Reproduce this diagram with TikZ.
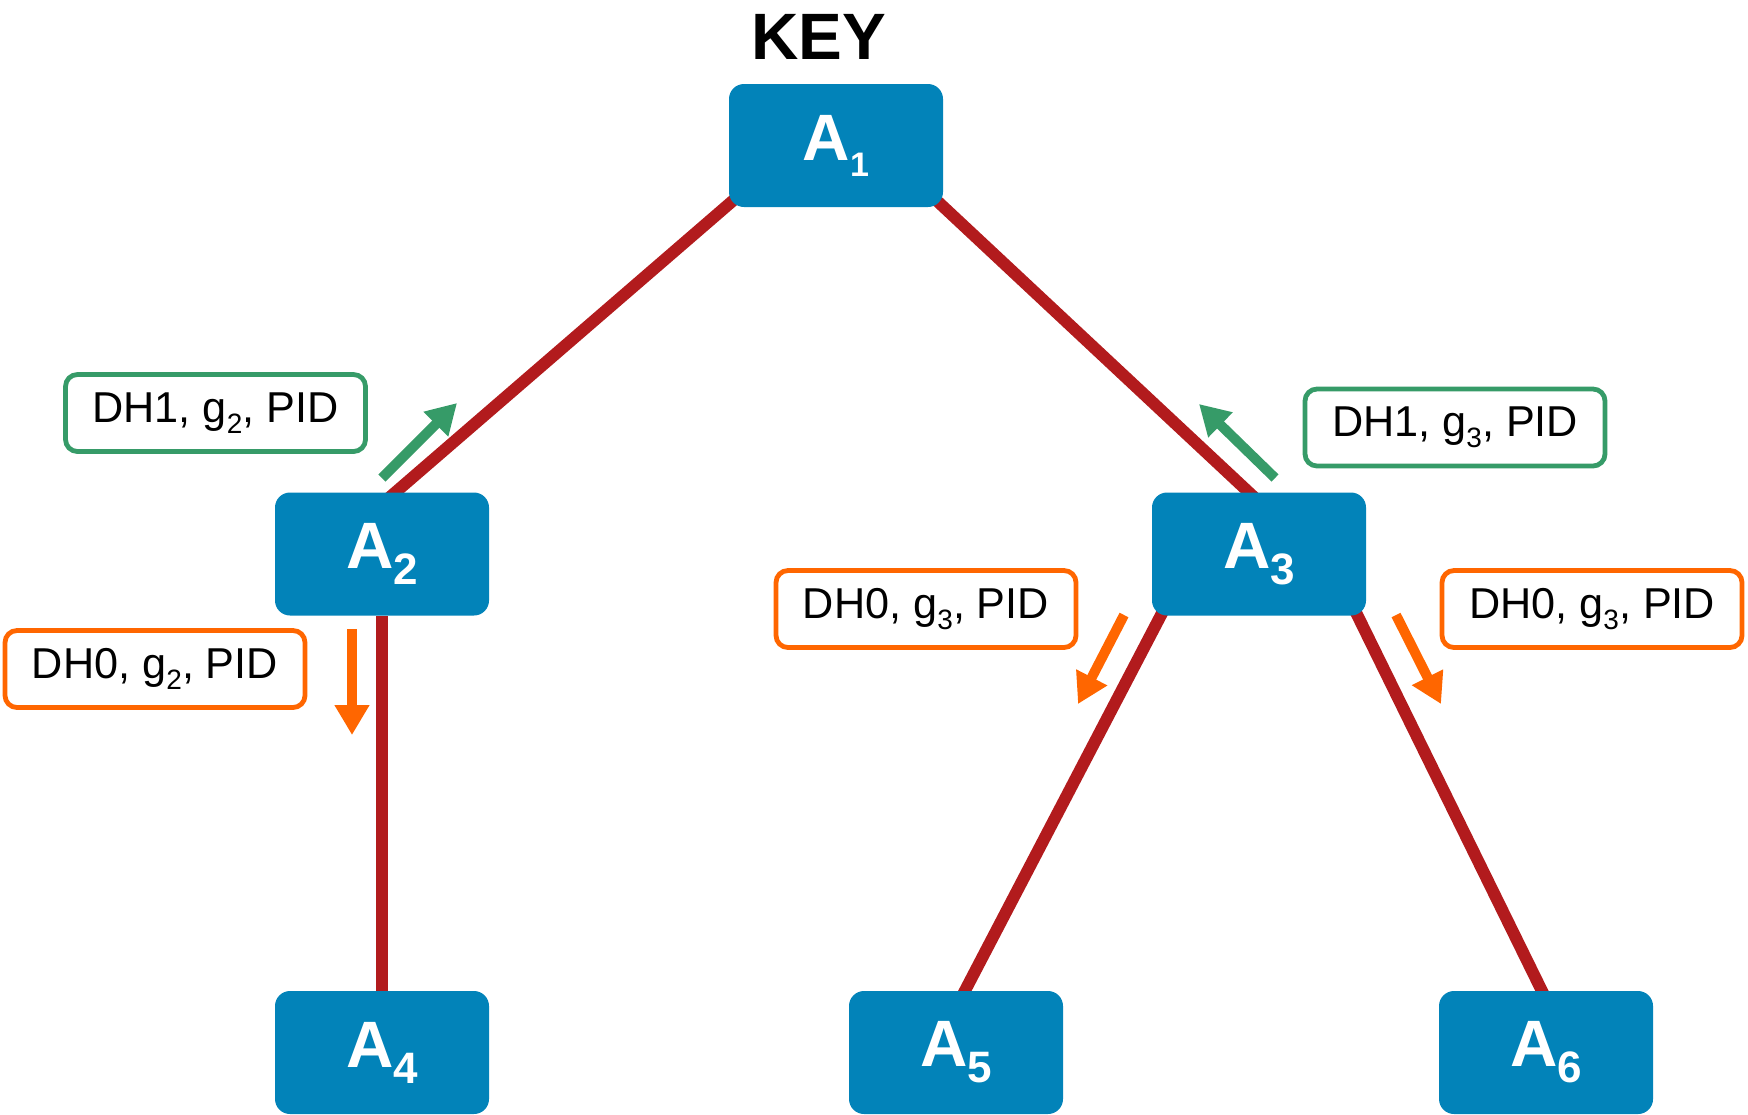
\documentclass[tikz,border=0pt]{standalone}
\usepackage{fontspec}
\setmainfont{Liberation Sans}
\usetikzlibrary{arrows.meta,calc}
\definecolor{nodeblue}{RGB}{2,131,185}
\definecolor{linkred}{RGB}{178,27,29}
\definecolor{upgreen}{RGB}{54,155,104}
\definecolor{downorange}{RGB}{255,102,0}
\pgfdeclarelayer{background}
\pgfsetlayers{background,main}
% lowered index digits
\newcommand\nodeidx[2][22]{\raisebox{-8pt}{\fontsize{#1}{#1}\selectfont #2}}
\newcommand\msgidx[1]{\raisebox{-5.5pt}{\fontsize{14}{14}\selectfont #1}}
\begin{document}
\begin{tikzpicture}[x=0.5pt,y=-0.5pt,
  party/.style={fill=nodeblue,rounded corners=7.5pt,minimum width=107pt,minimum height=61.5pt,
    inner sep=0pt,text=white,font=\bfseries\fontsize{32.8}{34}\selectfont},
  msg/.style={draw=#1,line width=2.4pt,fill=white,rounded corners=6pt,minimum width=150pt,
    minimum height=38.5pt,inner sep=0pt,font=\fontsize{21.6}{24}\selectfont},
  link/.style={linkred,line width=6pt},
  flow/.style={#1,line width=5pt,-{Triangle[length=15pt,width=16.5pt]}}
]
\useasboundingbox (0,0) rectangle (1748,1114);

% title
\node[anchor=base,font=\bfseries\fontsize{32.8}{34}\selectfont,inner sep=0pt] (key) at (819,59) {KEY};

% tree of parties
\node[party] (A1) at (836,145.5) {A\nodeidx[17]{1}};
\node[party] (A2) at (382,554) {A\nodeidx{2}};
\node[party] (A3) at (1259,554) {A\nodeidx{3}};
\node[party] (A4) at (382,1052.5) {A\nodeidx{4}};
\node[party] (A5) at (956,1052.5) {A\nodeidx{5}};
\node[party] (A6) at (1546,1052.5) {A\nodeidx{6}};

% tree links, behind the boxes
\begin{pgfonlayer}{background}
\draw[link] ([shift={(22,-22)}]A1.south west) -- ([shift={(106,13)}]A2.north west);
\draw[link] ([shift={(-24,-23)}]A1.south east) -- ([shift={(112,14)}]A3.north west);
\draw[link] (A2) -- (A4);
\draw[link] ([shift={(22,-25)}]A3.south west) -- ([shift={(107,18)}]A5.north west);
\draw[link] ([shift={(-21,-25)}]A3.south east) -- ([shift={(112,18)}]A6.north west);
\end{pgfonlayer}

% messages
\node[msg=upgreen] (m1) at (215.5,413) {DH1, g\msgidx{2}, PID};
\node[msg=upgreen] (m2) at (1455,427.5) {DH1, g\msgidx{3}, PID};
\node[msg=downorange] (m3) at (155,669) {DH0, g\msgidx{2}, PID};
\node[msg=downorange] (m4) at (926,609) {DH0, g\msgidx{3}, PID};
\node[msg=downorange] (m5) at (1592,609) {DH0, g\msgidx{3}, PID};

% message directions
\coordinate (u1s) at (382,478);  \coordinate (u1e) at (457,403);
\coordinate (u2s) at (1275,478); \coordinate (u2e) at (1199,404);
\coordinate (d1s) at (352,629);  \coordinate (d1e) at (352,735);
\coordinate (d2s) at (1124,615); \coordinate (d2e) at (1078,704);
\coordinate (d3s) at (1396,615); \coordinate (d3e) at (1441,704);
\draw[flow=upgreen] (u1s) -- (u1e);
\draw[flow=upgreen] (u2s) -- (u2e);
\draw[flow=downorange] (d1s) -- (d1e);
\draw[flow=downorange] (d2s) -- (d2e);
\draw[flow=downorange] (d3s) -- (d3e);
\end{tikzpicture}
\end{document}
